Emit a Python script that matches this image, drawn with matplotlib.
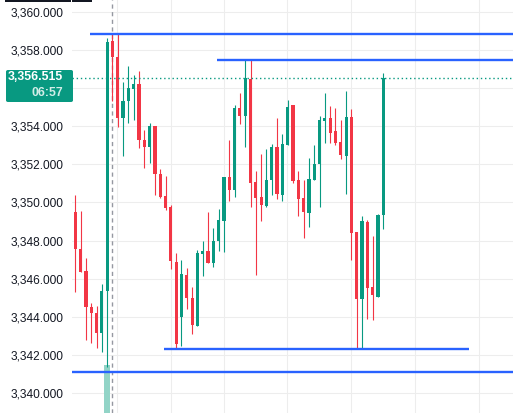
import matplotlib
matplotlib.use("Agg")
import matplotlib.pyplot as plt
from matplotlib.patches import FancyBboxPatch, Rectangle
import numpy as np

# ---- data ----
opens = [3349.48, 3347.55, 3346.40, 3344.53, 3344.18, 3343.13, 3345.37, 3358.49, 3357.62, 3354.45,
         3355.32, 3355.95, 3356.22, 3353.28, 3352.93, 3354.01, 3351.49, 3350.34, 3349.76, 3346.89,
         3344.00, 3346.19, 3344.96, 3343.53, 3347.31, 3347.45, 3346.84, 3347.97, 3349.04, 3351.33,
         3350.67, 3354.94, 3354.54, 3356.46, 3351.05, 3350.30, 3349.83, 3351.18, 3352.89, 3350.39,
         3353.01, 3355.11, 3351.18, 3350.23, 3349.46, 3351.18, 3352.02, 3354.29, 3354.43, 3353.75,
         3353.17, 3352.43, 3354.47, 3348.45, 3344.91, 3348.99, 3345.54, 3345.05, 3349.32]
highs = [3350.39, 3349.57, 3347.08, 3344.70, 3344.56, 3345.72, 3358.61, 3358.84, 3358.84, 3356.30,
         3357.16, 3356.69, 3356.90, 3353.80, 3354.19, 3354.01, 3351.75, 3351.39, 3349.86, 3347.33,
         3346.98, 3346.54, 3345.54, 3347.50, 3347.97, 3349.50, 3348.67, 3349.65, 3351.33, 3353.28,
         3355.11, 3355.73, 3357.48, 3357.48, 3351.67, 3352.54, 3352.80, 3353.05, 3354.43, 3353.57,
         3355.38, 3355.11, 3351.65, 3351.18, 3352.35, 3353.01, 3354.54, 3355.76, 3355.06, 3354.97,
         3354.33, 3355.85, 3354.88, 3348.45, 3349.29, 3349.08, 3348.24, 3349.39, 3356.78]
lows = [3345.31, 3346.36, 3342.78, 3342.64, 3342.34, 3342.16, 3341.38, 3355.30, 3353.98, 3352.44,
        3354.19, 3354.33, 3352.87, 3351.82, 3352.09, 3350.39, 3350.21, 3349.60, 3346.50, 3342.30,
        3342.46, 3344.39, 3343.09, 3343.53, 3346.15, 3346.84, 3346.63, 3347.47, 3347.41, 3350.09,
        3350.30, 3354.10, 3352.93, 3349.78, 3346.19, 3349.02, 3349.78, 3350.39, 3350.16, 3350.09,
        3353.01, 3351.04, 3349.30, 3348.15, 3348.73, 3351.18, 3349.78, 3353.14, 3353.10, 3353.01,
        3352.28, 3350.44, 3346.98, 3342.34, 3342.34, 3343.90, 3343.83, 3345.05, 3348.59]
closes = [3347.54, 3346.36, 3344.49, 3344.18, 3343.13, 3345.35, 3358.40, 3357.62, 3354.45, 3355.32,
          3355.99, 3356.22, 3353.28, 3352.93, 3354.01, 3351.47, 3350.30, 3349.72, 3346.94, 3342.57,
          3346.24, 3345.00, 3343.56, 3347.33, 3347.45, 3346.84, 3347.97, 3349.08, 3351.33, 3350.67,
          3354.94, 3354.54, 3356.51, 3351.04, 3350.25, 3349.88, 3351.18, 3352.89, 3350.46, 3353.05,
          3354.99, 3351.14, 3350.20, 3349.51, 3351.21, 3352.02, 3354.33, 3354.43, 3353.66, 3353.14,
          3352.49, 3354.47, 3348.41, 3344.91, 3349.02, 3345.52, 3345.12, 3349.34, 3356.515]

y_ticks = [3340, 3342, 3344, 3346, 3348, 3350, 3352, 3354, 3356, 3358, 3360]
hidden_tick = 3356  # covered by the last-price label in the reference
time_grid = [7.9, 18.0, 28.0, 39.9, 52.0, 64.0, 76.1]

# horizontal drawn levels: (price, start index, end index or None)
level_prices = [3358.84, 3357.48, 3342.30, 3341.11]
level_starts = [2.77, 26.74, 16.7, -0.62]
level_ends = [None, None, 74.1, None]

last_price = 3356.515
countdown = "06:57"
crosshair_index = 7
volume_index = 6
volume_top = 3341.45

GREEN = "#089981"
RED = "#F23645"
BLUE = "#2962FF"

W, H = 513, 413
fig = plt.figure(figsize=(W / 100, H / 100), dpi=100)
fig.patch.set_facecolor("white")
ax = fig.add_axes([72 / W, 0, (W - 72) / W, 1])
ax.set_facecolor("white")

ymin, ymax = 3338.945, 3360.625
xmin, xmax = -0.62, 82.43
ax.set_xlim(xmin, xmax)
ax.set_ylim(ymin, ymax)

for s in ax.spines.values():
    s.set_visible(False)

# grid
for yt in y_ticks:
    ax.axhline(yt, color="#EDEDED", lw=0.8, zorder=0)
for xt in time_grid:
    ax.axvline(xt, color="#EDEDED", lw=0.8, zorder=0)

# volume bar
ax.bar([volume_index], [volume_top - ymin], bottom=ymin, width=1.0,
       color="#92D4C7", zorder=1)

# crosshair
ax.axvline(crosshair_index, color="#9598A1", lw=1.0, linestyle=(0, (3, 2.5)), zorder=1.5)

# candles
o = np.array(opens); h = np.array(highs); l = np.array(lows); c = np.array(closes)
idx = np.arange(len(o))
up = c >= o
cols = np.where(up, GREEN, RED)
ax.vlines(idx, l, h, colors=cols, lw=0.8, zorder=3)
bottoms = np.minimum(o, c)
heights = np.maximum(np.abs(c - o), 0.055)
ax.bar(idx, heights, bottom=bottoms, width=0.6, color=cols, zorder=4, linewidth=0)

# level lines
for p, s, e in zip(level_prices, level_starts, level_ends):
    e = xmax if e is None else e
    ax.plot([s, e], [p, p], color=BLUE, lw=1.7, solid_capstyle="butt", zorder=5)

# last price dotted line
ax.plot([xmin, xmax], [last_price, last_price], color=GREEN, lw=1.0,
        linestyle=(0, (1, 2)), zorder=5)

# y tick labels
ax.set_xticks([])
ax.set_yticks(y_ticks)
ax.set_yticklabels(["" if v == hidden_tick else f"{v:,.3f}" for v in y_ticks])
ax.tick_params(axis="y", length=0, pad=6.5, labelsize=8.6, labelcolor="#131722")
for lab in ax.get_yticklabels():
    lab.set_fontfamily("Liberation Sans")

# price label box
def fx(px):
    return px / W

def fy(py):
    return 1 - py / H

box = FancyBboxPatch((fx(6), fy(102)), fx(73) - fx(6), fy(70) - fy(102),
                     boxstyle="round,pad=0,rounding_size=0.004",
                     transform=fig.transFigure, facecolor=GREEN, edgecolor="none",
                     zorder=10)
fig.add_artist(box)
fig.text(fx(63), fy(77.5), f"{last_price:,.3f}", ha="right", va="center",
         color="white", fontsize=8.8, fontweight="bold", family="Liberation Sans", zorder=11)
fig.text(fx(63), fy(93.5), countdown, ha="right", va="center",
         color="#D2EDE7", fontsize=8.8, fontweight="bold", family="Liberation Sans", zorder=11)

# cropped dark element at the very top
fig.add_artist(Rectangle((fx(5), fy(2)), fx(71) - fx(5), fy(0) - fy(2),
                         transform=fig.transFigure, facecolor="#131722", edgecolor="none", zorder=10))
fig.add_artist(Rectangle((fx(72), fy(2)), fx(92) - fx(72), fy(0) - fy(2),
                         transform=fig.transFigure, facecolor="#131722", edgecolor="none", zorder=10))

fig.savefig("out.png", dpi=100, facecolor="white")
